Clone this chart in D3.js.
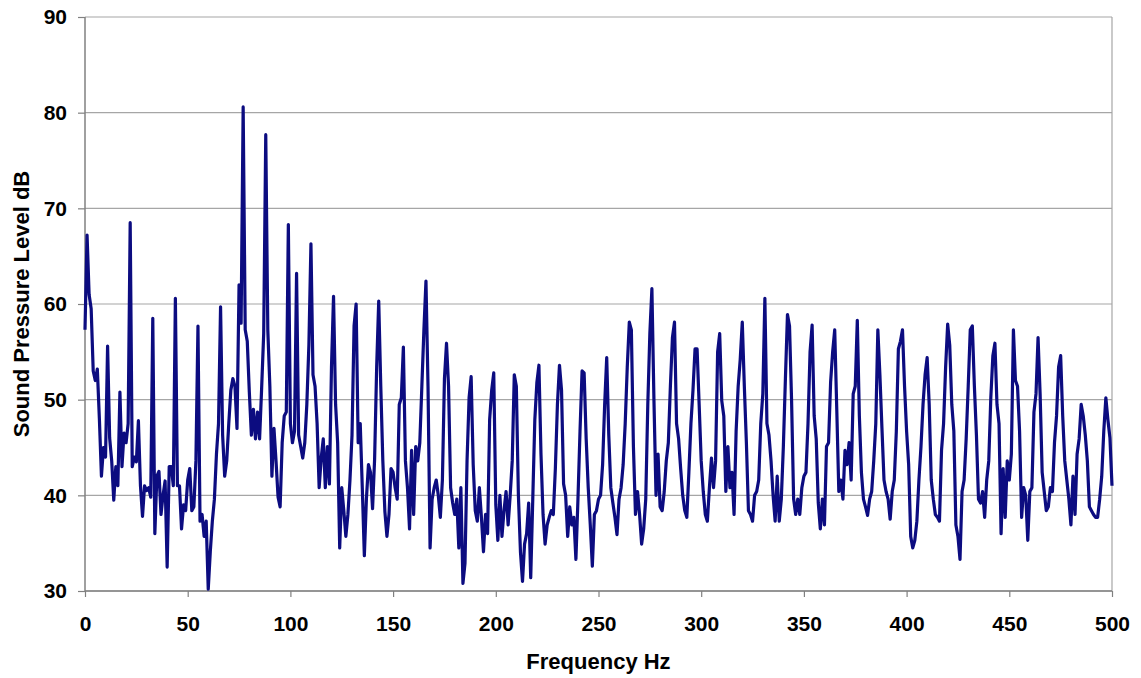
<!DOCTYPE html>
<html>
<head>
<meta charset="utf-8">
<script src="https://cdn.jsdelivr.net/npm/d3@7"></script>
<style>
  body { margin: 0; background: #fff; }
  svg text { font-family: "Liberation Sans", Arial, sans-serif; font-weight: bold; fill: #000; }
</style>
</head>
<body>
<svg id="chart" width="1141" height="678"></svg>
<script>
// spectrum, 1 Hz bins, 0..500 Hz
const spl = [
  57.3, 67.2, 61, 59.5, 53, 52, 53.2, 48, 42, 45,
  44, 55.6, 46, 43.6, 39.5, 43, 41, 50.8, 43, 46.5,
  45.5, 47.5, 68.5, 43, 44, 43.5, 47.8, 41, 37.8, 41,
  40.5, 40.8, 39.8, 58.5, 36, 42, 42.5, 38, 40, 41.5,
  32.5, 43, 43, 41, 60.6, 41, 41, 36.5, 39, 38.4,
  41.6, 42.8, 38.4, 38.8, 43.6, 57.7, 37.3, 38, 35.7, 37.3,
  30.2, 34.1, 37.3, 39.6, 44.3, 47.5, 59.7, 46.3, 42, 43.6,
  47.5, 51, 52.2, 51.4, 47, 62, 58, 80.6, 57.3, 56.1,
  50.8, 46.3, 49, 45.9, 48.7, 45.9, 51.2, 56.9, 77.7, 57.3,
  51.4, 42, 47, 43.6, 39.8, 38.8, 45.5, 48.3, 48.7, 68.3,
  47.5, 45.5, 46.7, 63.2, 46.3, 45.1, 43.9, 45.5, 49.5, 55.7,
  66.3, 52.6, 51.4, 47.5, 40.8, 43.9, 45.9, 40.8, 45.1, 41.2,
  53.4, 60.8, 49.5, 45.5, 34.5, 40.8, 38.4, 35.7, 38, 41.6,
  46.3, 57.7, 60, 45.5, 47.5, 40.8, 33.7, 39.6, 43.2, 42.4,
  38.6, 43.8, 53.4, 60.3, 51.4, 43.6, 38.3, 35.7, 38, 42.8,
  42.4, 40.8, 39.6, 49.5, 50.2, 55.5, 43.6, 40.8, 36.5, 44.7,
  38, 45.1, 43.6, 45.5, 51.4, 57.3, 62.4, 51.4, 34.5, 39.6,
  40.8, 41.6, 40, 37.7, 41.6, 52.2, 55.9, 51.4, 40.8, 39.2,
  38, 39.6, 34.5, 40.8, 30.8, 32.9, 43.6, 50.2, 52.4, 43.2,
  38.4, 37.3, 40.8, 37.7, 34.1, 38, 36, 47.9, 51, 52.8,
  39, 35.3, 40, 35.7, 38.4, 40.4, 36.9, 40, 43.6, 52.6,
  51.4, 40, 34.1, 31, 34.9, 36, 39.2, 31.4, 39.6, 47.9,
  51.8, 53.6, 44.3, 38, 34.9, 36.9, 37.7, 38.4, 38, 42.8,
  49.5, 53.6, 51, 41.2, 40, 35.7, 38.8, 36.9, 37.7, 33.3,
  39.6, 46.7, 53, 52.8, 45.9, 40.8, 36.9, 32.6, 38, 38.4,
  39.6, 40, 43.2, 49.5, 54.4, 46.3, 40.8, 39.2, 37.7, 35.9,
  39.6, 40.8, 43.2, 47.5, 53.4, 58.1, 57.3, 45.1, 38, 40.4,
  38, 34.9, 36.5, 39.6, 49.5, 56.9, 61.6, 49.9, 40, 44.3,
  38.8, 38.4, 40.4, 43.6, 45.5, 51.4, 56.5, 58.1, 47.5, 45.9,
  42.8, 40, 38.4, 37.7, 42.4, 47.5, 51, 55.3, 55.3, 49.5,
  43.6, 40.4, 38, 37.3, 40.8, 43.9, 40.8, 43.6, 55, 56.9,
  49.9, 48.3, 40.4, 45.1, 40.8, 42.4, 38, 46.7, 51.4, 54.2,
  58.1, 51.4, 45.5, 38.4, 38, 37.3, 40, 40.4, 41.6, 47.5,
  50.6, 60.6, 47.5, 46.3, 43.6, 40, 37.3, 42, 37.3, 39.6,
  45.1, 52.2, 58.9, 57.7, 49.9, 39.6, 38, 39.6, 38, 40.8,
  42, 42.4, 47.5, 55, 57.8, 48.3, 45.9, 39.2, 36.5, 39.6,
  36.9, 45.1, 45.5, 51.8, 55, 57.3, 49, 40.4, 41.6, 39.6,
  44.7, 43.2, 45.5, 41.6, 50.6, 51.4, 58.3, 48.3, 42.4, 39.6,
  38.8, 37.9, 39.6, 40.4, 43.6, 47.5, 57.3, 52.6, 47, 41.6,
  40.4, 39.6, 37.5, 40.4, 41.6, 46.7, 55.3, 56.1, 57.3, 51.4,
  46.7, 43.2, 35.7, 34.5, 35.3, 37.3, 41.6, 45.1, 49.5, 52.6,
  54.4, 49.5, 41.6, 39.6, 38, 37.7, 37.3, 44.7, 47.5, 53.4,
  57.9, 55.7, 49.5, 46.7, 36.9, 35.7, 33.3, 40.4, 41.6, 45.9,
  51.4, 57.3, 57.7, 51.4, 46.3, 39.6, 39.2, 40.4, 37.7, 41.6,
  43.6, 50.2, 54.6, 55.9, 49.5, 47.5, 36, 42.8, 37.7, 43.6,
  41.6, 44.3, 57.3, 52, 51.4, 46.7, 37.7, 40.8, 40, 35.3,
  40.4, 40.8, 48.7, 50.6, 56.5, 50.6, 42.4, 40.4, 38.4, 38.8,
  40.8, 40.4, 45.5, 48.3, 53.4, 54.6, 48.3, 43.6, 41.6, 39.6,
  36.9, 42, 38, 44.3, 45.9, 49.5, 48.3, 46.3, 43.6, 38.8,
  38.4, 38, 37.7, 37.7, 39.6, 42, 46.7, 50.2, 47.9, 46,
  41
];
const freqs = spl.map((_, i) => i);   // Hz

const xTicks = [0, 50, 100, 150, 200, 250, 300, 350, 400, 450, 500];
const yTicks = [30, 40, 50, 60, 70, 80, 90];

const xTitle = "Frequency Hz";
const yTitle = "Sound Pressure Level dB";

const svg = d3.select("#chart");
const plotL = 85, plotR = 1112, plotT = 17, plotB = 591;

const x = d3.scaleLinear().domain([0, 500]).range([plotL, plotR]);
const y = d3.scaleLinear().domain([30, 90]).range([plotB, plotT]);

// grid lines
svg.append("g")
  .selectAll("line")
  .data(yTicks)
  .join("line")
    .attr("x1", plotL).attr("x2", plotR)
    .attr("y1", d => y(d)).attr("y2", d => y(d))
    .attr("stroke", "#a6a6a6").attr("stroke-width", 1.2);

// right border
svg.append("line")
  .attr("x1", plotR).attr("x2", plotR).attr("y1", plotT).attr("y2", plotB)
  .attr("stroke", "#a6a6a6").attr("stroke-width", 1.2);

// axes
const xAxis = svg.append("g")
  .attr("transform", `translate(0,${plotB})`)
  .call(d3.axisBottom(x).tickValues(xTicks).tickSize(6).tickPadding(19).tickFormat(d3.format("d")));
const yAxis = svg.append("g")
  .attr("transform", `translate(${plotL},0)`)
  .call(d3.axisLeft(y).tickValues(yTicks).tickSize(7).tickPadding(11).tickFormat(d3.format("d")));

[xAxis, yAxis].forEach(g => {
  g.select(".domain").attr("stroke", "#808080").attr("stroke-width", 1.5);
  g.selectAll(".tick line").attr("stroke", "#808080").attr("stroke-width", 1.2);
  g.selectAll(".tick text").attr("font-size", 21).attr("fill", "#000");
});
xAxis.selectAll(".domain").attr("d", `M${plotL},0H${plotR}`);
yAxis.selectAll(".domain").attr("d", `M0,${plotT}V${plotB}`);

// spectrum line
const line = d3.line()
  .x((d, i) => x(freqs[i]))
  .y(d => y(d));

svg.append("path")
  .datum(spl)
  .attr("fill", "none")
  .attr("stroke", "#0c0c80")
  .attr("stroke-width", 3.2)
  .attr("stroke-linejoin", "round")
  .attr("d", line);

// titles
svg.append("text")
  .attr("x", (plotL + plotR) / 2).attr("y", 669)
  .attr("text-anchor", "middle").attr("font-size", 22)
  .text(xTitle);

svg.append("text")
  .attr("transform", `translate(28.5,${(plotT + plotB) / 2}) rotate(-90)`)
  .attr("text-anchor", "middle").attr("font-size", 22)
  .text(yTitle);
</script>
</body>
</html>
